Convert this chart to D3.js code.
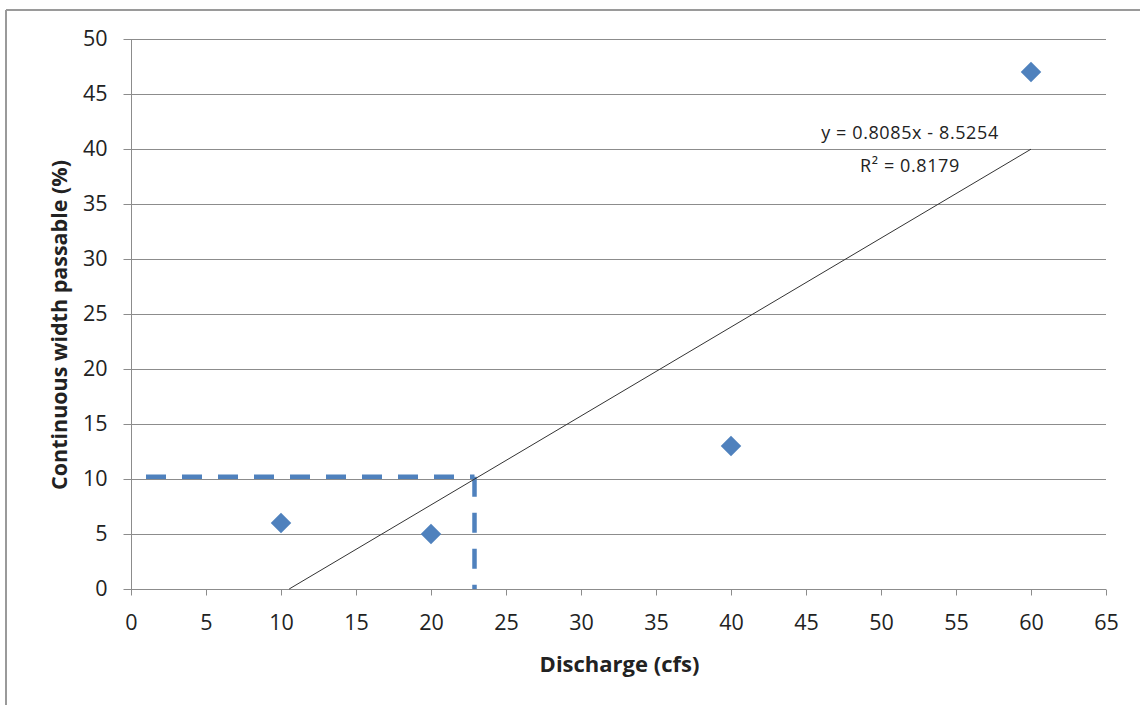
<!DOCTYPE html>
<html>
  <head>
    <meta charset="utf-8">
    <title>Continuous width passable</title>
    <script src="https://d3js.org/d3.v7.min.js"></script>
    <style>
      body { margin: 0; background: #fff; }
      text { font-family: "Open Sans", "DejaVu Sans", sans-serif; fill: #222; }
      .grid line { stroke: #8c8c8c; stroke-width: 1; }
      .axis path, .axis line { stroke: #8c8c8c; }
    </style>
  </head>
  <body>
    <div id="chart"></div>
    <script>
      // observed points
      var discharge = [10, 20, 40, 60];
      var widthPct = [6, 5, 13, 47];
      // linear trendline y = slope*x + intercept
      var slope = 0.8085;
      var intercept = -8.5254;
      var eqLabels = ["y = 0.8085x - 8.5254", "R\u00b2 = 0.8179"];
      // dashed guide: 10% passable at ~22.9 cfs
      var guideX = [1, 22.9];
      var guideY = 10.2;
      var xTicks = d3.range(0, 66, 5);
      var yTicks = d3.range(0, 51, 5);

      var W = 1140, H = 705;
      var margin = {top: 39, right: 34, bottom: 116, left: 131};

      var svg = d3.select("#chart").append("svg")
          .attr("width", W).attr("height", H);

      // outer frame (top + left only visible)
      svg.append("line").attr("x1", 6).attr("x2", W).attr("y1", 10).attr("y2", 10)
          .attr("stroke", "#9a9a9a").attr("stroke-width", 2);
      svg.append("line").attr("x1", 6).attr("x2", 6).attr("y1", 10).attr("y2", H)
          .attr("stroke", "#9a9a9a").attr("stroke-width", 2);

      var x = d3.scaleLinear().domain([0, 65]).range([margin.left, W - margin.right]);
      var y = d3.scaleLinear().domain([0, 50]).range([H - margin.bottom, margin.top]);

      // horizontal gridlines
      svg.append("g").attr("class", "grid")
        .selectAll("line").data(yTicks.filter(function(d){ return d > 0; })).enter()
        .append("line")
          .attr("x1", x(0)).attr("x2", x(65))
          .attr("y1", function(d){ return Math.round(y(d)) + 0.5; })
          .attr("y2", function(d){ return Math.round(y(d)) + 0.5; });

      var xAxis = svg.append("g").attr("class", "axis")
          .attr("transform", "translate(0," + (Math.round(y(0)) + 0.5) + ")")
          .call(d3.axisBottom(x).tickValues(xTicks).tickSize(6).tickPadding(19));
      var yAxis = svg.append("g").attr("class", "axis")
          .attr("transform", "translate(" + (Math.round(x(0)) + 0.5) + ",0)")
          .call(d3.axisLeft(y).tickValues(yTicks).tickSize(8).tickPadding(16));
      [xAxis, yAxis].forEach(function(a){
        a.select(".domain").attr("d", null);
        a.selectAll("text").style("font-size", "21.5px").attr("fill", "#222");
      });
      xAxis.append("line").attr("x1", x(0)).attr("x2", x(65)).attr("stroke", "#8c8c8c");
      yAxis.append("line").attr("y1", y(0)).attr("y2", y(50)).attr("stroke", "#8c8c8c");

      // dashed guide lines
      var blue = "#4f81bd";
      svg.append("line")
          .attr("x1", x(guideX[0])).attr("x2", x(guideX[1]))
          .attr("y1", y(guideY)).attr("y2", y(guideY))
          .attr("stroke", blue).attr("stroke-width", 4.5)
          .attr("stroke-dasharray", "20,16");
      svg.append("line")
          .attr("x1", x(guideX[1])).attr("x2", x(guideX[1]))
          .attr("y1", y(guideY)).attr("y2", y(0))
          .attr("stroke", blue).attr("stroke-width", 4.5)
          .attr("stroke-dasharray", "20,16");

      // trendline
      var x0 = -intercept / slope, x1 = 60;
      svg.append("line")
          .attr("x1", x(x0)).attr("y1", y(0))
          .attr("x2", x(x1)).attr("y2", y(slope * x1 + intercept))
          .attr("stroke", "#333").attr("stroke-width", 1);

      // diamonds
      svg.selectAll(".pt").data(discharge).enter()
        .append("path").attr("class", "pt")
          .attr("d", d3.symbol().type(d3.symbolSquare).size(210))
          .attr("transform", function(d, i){
            return "translate(" + x(d) + "," + y(widthPct[i]) + ") rotate(45)";
          })
          .attr("fill", blue);

      // equation
      svg.selectAll(".eq").data(eqLabels).enter()
        .append("text").attr("class", "eq")
          .attr("x", 910).attr("y", function(d, i){ return 139 + i * 33; })
          .attr("text-anchor", "middle")
          .style("font-size", "18px")
          .style("letter-spacing", "0.6px")
          .text(function(d){ return d; });

      // axis titles
      svg.append("text")
          .attr("x", (x(0) + x(65)) / 2 + 1).attr("y", 672)
          .attr("text-anchor", "middle")
          .style("font-size", "22px").style("font-weight", "bold")
          .text("Discharge (cfs)");
      svg.append("text")
          .attr("transform", "translate(67," + (y(25) + 11) + ") rotate(-90)")
          .attr("text-anchor", "middle")
          .style("font-size", "21.5px").style("font-weight", "bold")
          .text("Continuous width passable (%)");
    </script>
  </body>
</html>
